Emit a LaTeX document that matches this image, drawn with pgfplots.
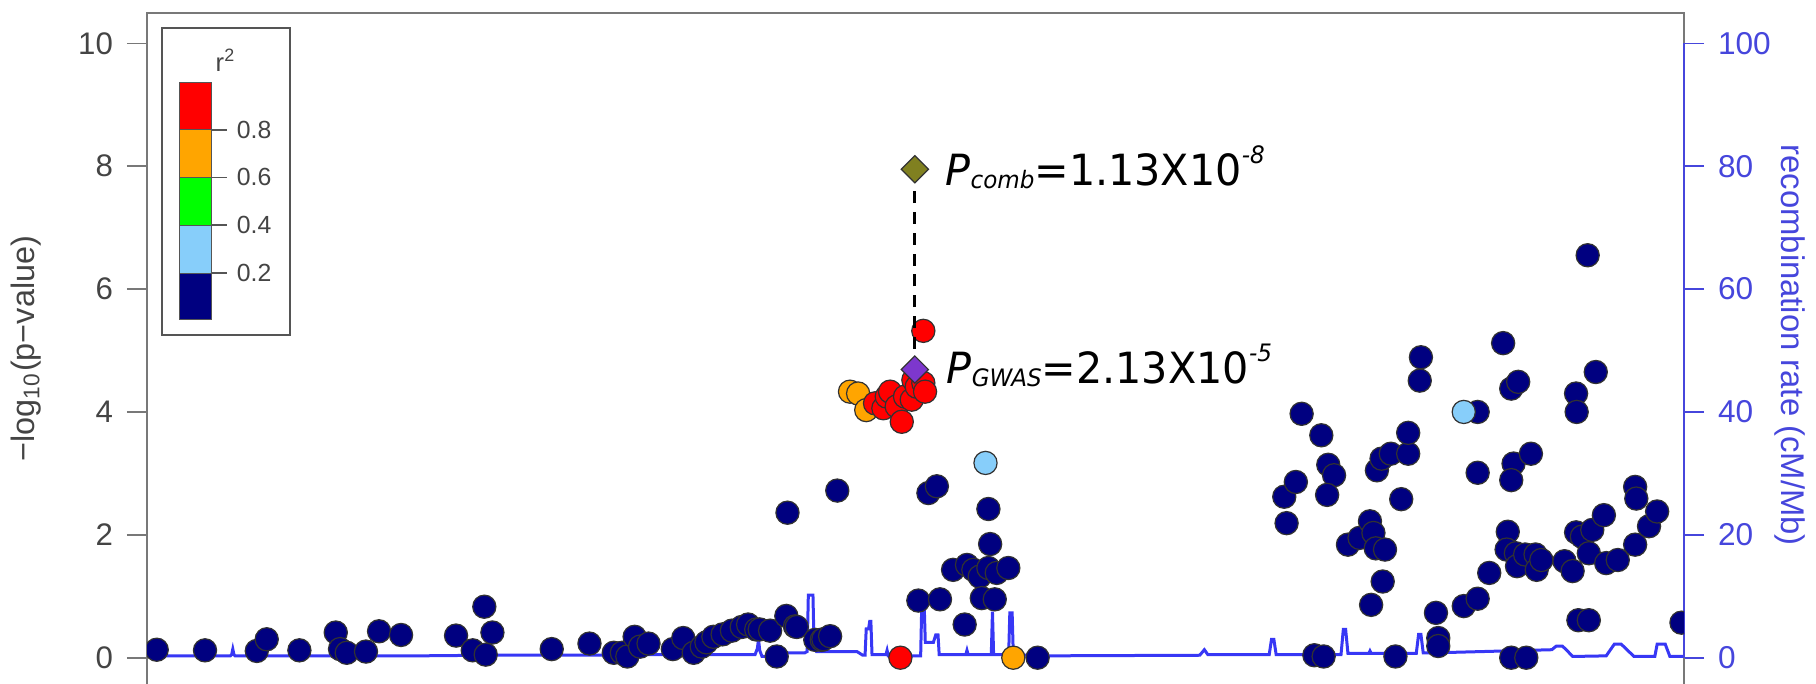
\documentclass[border=0pt]{standalone}
\usepackage{pgfplots}
\pgfplotsset{compat=1.18}
\usepackage{fontspec}
\setmainfont{Liberation Sans}
\newfontfamily\annfont{DejaVu Sans}
\definecolor{navyc}{RGB}{0,0,128}
\definecolor{orangec}{RGB}{255,165,0}
\definecolor{greenc}{RGB}{0,255,0}
\definecolor{lbluec}{RGB}{135,206,250}
\definecolor{redc}{RGB}{255,0,0}
\definecolor{purplec}{RGB}{125,55,205}
\definecolor{olivec}{RGB}{128,128,32}
\definecolor{axblue}{RGB}{70,70,220}
\definecolor{lnblue}{RGB}{55,55,245}
\definecolor{txtgray}{RGB}{68,68,68}
\definecolor{framegray}{RGB}{120,120,120}
\definecolor{edgegray}{RGB}{50,50,50}
\definecolor{legendgray}{RGB}{85,85,85}
\tikzset{
  lgtick/.style={legendgray, line width=0.35bp},
  lglab/.style={anchor=west, inner sep=0pt, text=txtgray, font=\fontsize{6.2bp}{7bp}\selectfont},
  ann/.style={anchor=base west, inner sep=0pt, font=\annfont\fontsize{10.75bp}{12bp}\selectfont},
}
\newcommand{\ann}[3]{\scalebox{0.96}[1]{\textit{P}\raisebox{-0.6bp}{\fontsize{6bp}{7bp}\selectfont\itshape #1}=#2X10\raisebox{5.6bp}{\fontsize{6bp}{7bp}\selectfont\itshape -#3}}}
\begin{document}
\begin{tikzpicture}
\useasboundingbox (-36.75bp,0) rectangle (417.25bp,171bp);
\pgfplotsset{
  base/.style={scale only axis, width=384.25bp, height=167.7bp,
    xmin=126.9, xmax=1454.2, hide x axis,
    tick align=outside, major tick length=5bp,
    /pgf/number format/assume math mode=true},
  pt/.style={only marks, mark=*, mark size=2.9bp,
    mark options={draw=edgegray, line width=0.3bp, fill=#1}},
  dm/.style={only marks, mark=square*, mark size=2.4bp,
    mark options={rotate=45, draw=edgegray, line width=0.3bp, fill=#1}},
}
% ---------- recombination rate axis (right) ----------
\begin{axis}[base, ymin=-4.28, ymax=104.9,
  axis y line*=right, y axis line style={draw=none},
  ytick={0,20,40,60,80,100},
  ytick style={color=axblue, line width=0.4bp},
  yticklabel style={font=\fontsize{7.9bp}{9bp}\selectfont, text=axblue},
  ylabel={recombination rate (cM/Mb)},
  every axis y label/.style={at={(axis description cs:1.069,0.505)}, anchor=center,
    rotate=-90, font=\fontsize{8.2bp}{9bp}\selectfont, text=axblue},
  clip=false]
\draw[framegray, line width=0.4bp] (rel axis cs:0,0) -- (rel axis cs:0,1) -- (rel axis cs:1,1) -- (rel axis cs:1,0);
\addplot[lnblue, line width=0.75bp] coordinates {
(126.9,0.3) (199,0.3) (200,0.5) (201,1.4) (202,0.5) (203,0.3) (360,0.3) (420,0.4)
(500,0.4) (560,0.5) (640,0.5) (652,0.5) (654,1.5) (655,3.0) (656,1.2) (658,0.2)
(668,0.2) (672,0.8) (695,0.8) (697,1.0) (698,10.2) (702,10.2) (703,1.5) (705,1.0)
(740,1.0) (745,0.4) (747,0.4) (748,4.7) (750,4.7) (751,5.9) (752,5.9) (753,0.5)
(765,0.5) (766,1.2) (767,0.3) (795,0.3) (796,9.0) (798,9.0) (799,2.5) (806,2.5)
(808,3.7) (810,3.7) (811,0.5) (834,0.5) (835,1.2) (836,0.5) (856,0.5) (857,7.5)
(858,0.5) (871,0.5) (872,7.3) (874,7.3) (875,0.5) (900,0.3) (1036,0.4) (1040,1.3)
(1043,0.5) (1096,0.5) (1098,3.0) (1100,3.0) (1102,0.5) (1158,0.5) (1160,4.6)
(1162,4.6) (1164,0.7) (1182,0.7) (1183,1.1) (1184,0.7) (1223,0.7) (1225,3.8)
(1227,3.8) (1229,0.8) (1240,0.8) (1300,1.1) (1340,1.3) (1344,1.9) (1349,1.9)
(1352,1.4) (1358,0.2) (1387,0.3) (1394,2.2) (1400,2.2) (1411,0.2) (1429,0.2)
(1431,2.2) (1438,2.2) (1442,0.2) (1454.2,0.2)};
\draw[axblue, line width=0.4bp] (axis cs:1454.2,0) -- (axis cs:1454.2,100);
\end{axis}
% ---------- association axis (left) ----------
\begin{axis}[base, ymin=-0.428, ymax=10.49,
  axis y line*=left, y axis line style={draw=none},
  ytick={0,2,4,6,8,10},
  ytick style={color=framegray, line width=0.4bp},
  yticklabel style={font=\fontsize{7.8bp}{9bp}\selectfont, text=txtgray},
  ylabel={−log\textsubscript{10}(p−value)},
  every axis y label/.style={at={(axis description cs:-0.0787,0.5)}, anchor=center,
    rotate=90, font=\fontsize{8.1bp}{9bp}\selectfont, text=txtgray},
  clip marker paths=true]
% r2 < 0.2
\addplot[pt=navyc] coordinates {
(135.3,0.13) (177,0.12) (221.7,0.11) (230.3,0.30) (258.5,0.12) (289.9,0.41)
(293.6,0.14) (299.4,0.08) (316,0.10) (327.3,0.43) (346.3,0.37) (393.8,0.36)
(408.2,0.12) (418.2,0.83) (419.4,0.05) (425.2,0.41) (476.4,0.14) (509,0.23)
(530,0.08) (537,0.08) (541.7,0.02) (548,0.34) (552.7,0.18) (560,0.23) (581,0.14)
(590,0.32) (599,0.08) (606,0.18) (610,0.25) (616,0.34) (624,0.38) (632,0.44)
(640.5,0.50) (646,0.54) (653,0.46) (656,0.46) (665,0.44) (670.7,0.02) (679,0.68)
(686.5,0.51) (688,0.50) (704,0.29) (709.6,0.29) (711,0.30) (716.8,0.35)
(680,2.36) (723,2.72)
(793,0.93) (801.7,2.68) (809,2.79) (811.7,0.95) (823,1.43) (833,0.54) (835,1.51)
(840.5,1.43) (846,1.32) (847.8,0.97) (853.5,2.42) (855,1.85) (853.5,1.46)
(859,0.95) (860.7,1.38) (870.7,1.46) (896,0.0)
(1109,2.62) (1111,2.19) (1119,2.86) (1124,3.97) (1135,0.04) (1143,0.02)
(1141,3.62) (1147,3.14) (1152,2.97) (1146,2.65) (1164,1.84) (1174,1.95)
(1183,2.22) (1186,2.03) (1188,1.78) (1196,1.76) (1194,1.24) (1184,0.86)
(1189,3.05) (1193,3.24) (1201,3.32) (1205,0.02) (1210,2.58) (1216,3.32)
(1216,3.66) (1227,4.89) (1226,4.51) (1240,0.73) (1242,0.32) (1242,0.19)
(1276,4.0) (1276,3.01) (1264,0.84) (1276,0.96) (1286,1.38) (1298,5.12)
(1305,4.38) (1311,4.49) (1307,3.16) (1305,2.89) (1322,3.32) (1302,2.05)
(1301,1.76) (1309,1.70) (1310,1.49) (1317,1.68) (1326,1.68) (1327,1.43)
(1331,1.59) (1305,0.0) (1318,0.0) (1361,4.30) (1361.5,4.0) (1378,4.65)
(1371,6.55) (1361,2.04) (1351,1.57) (1358,1.41) (1366,1.97) (1372,1.70)
(1375,2.08) (1385,2.32) (1387,1.54) (1397,1.59) (1363,0.61) (1372,0.61)
(1412,2.78) (1413,2.59) (1412,1.84) (1424,2.14) (1431,2.38) (1452,0.57)};
% 0.2-0.4
\addplot[pt=lbluec] coordinates {(851,3.17) (1264,4.0)};
% 0.6-0.8
\addplot[pt=orangec] coordinates {(734,4.33) (741,4.30) (748,4.03) (875,0.0)};
% 0.8-1
\addplot[pt=redc] coordinates {
(755.6,4.14) (762.8,4.06) (765.7,4.25) (768.6,4.33) (774.3,4.09) (778.7,3.84)
(781.5,4.25) (787.3,4.20) (788.7,4.52) (791.6,4.41) (797.3,4.47) (798.8,4.33)
(797.3,5.32) (777.5,0.0)};
\addplot[black, line width=0.75bp, dash pattern=on 3bp off 2.2bp] coordinates {(790,4.69) (790,7.95)};
\addplot[dm=purplec] coordinates {(790,4.69)};
\addplot[dm=olivec] coordinates {(790,7.95)};
% annotations
\node[ann] at (axis cs:816,7.68) {\ann{comb}{1.13}{8}};
\node[ann] at (axis cs:817,4.46) {\ann{GWAS}{2.13}{5}};
% r2 legend
\draw[legendgray, line width=0.4bp, fill=white] (axis cs:139.9,10.25) rectangle (axis cs:250.4,5.25);
\draw[legendgray, line width=0.25bp, fill=navyc] (axis cs:154.6,5.51) rectangle (axis cs:182.2,6.26);
\draw[legendgray, line width=0.25bp, fill=lbluec] (axis cs:154.6,6.26) rectangle (axis cs:182.2,7.04);
\draw[legendgray, line width=0.25bp, fill=greenc] (axis cs:154.6,7.04) rectangle (axis cs:182.2,7.82);
\draw[legendgray, line width=0.25bp, fill=orangec] (axis cs:154.6,7.82) rectangle (axis cs:182.2,8.59);
\draw[legendgray, line width=0.25bp, fill=redc] (axis cs:154.6,8.59) rectangle (axis cs:182.2,9.37);
\draw[lgtick] (axis cs:182.2,6.26) -- (axis cs:196.0,6.26);
\draw[lgtick] (axis cs:182.2,7.04) -- (axis cs:196.0,7.04);
\draw[lgtick] (axis cs:182.2,7.82) -- (axis cs:196.0,7.82);
\draw[lgtick] (axis cs:182.2,8.59) -- (axis cs:196.0,8.59);
\node[lglab] at (axis cs:203.8,6.26) {0.2};
\node[lglab] at (axis cs:203.8,7.04) {0.4};
\node[lglab] at (axis cs:203.8,7.82) {0.6};
\node[lglab] at (axis cs:203.8,8.59) {0.8};
\node[inner sep=0pt, text=txtgray, font=\fontsize{6.4bp}{7bp}\selectfont] at (axis cs:195.1,9.73) {r\textsuperscript{2}};
\end{axis}
\end{tikzpicture}
\end{document}
